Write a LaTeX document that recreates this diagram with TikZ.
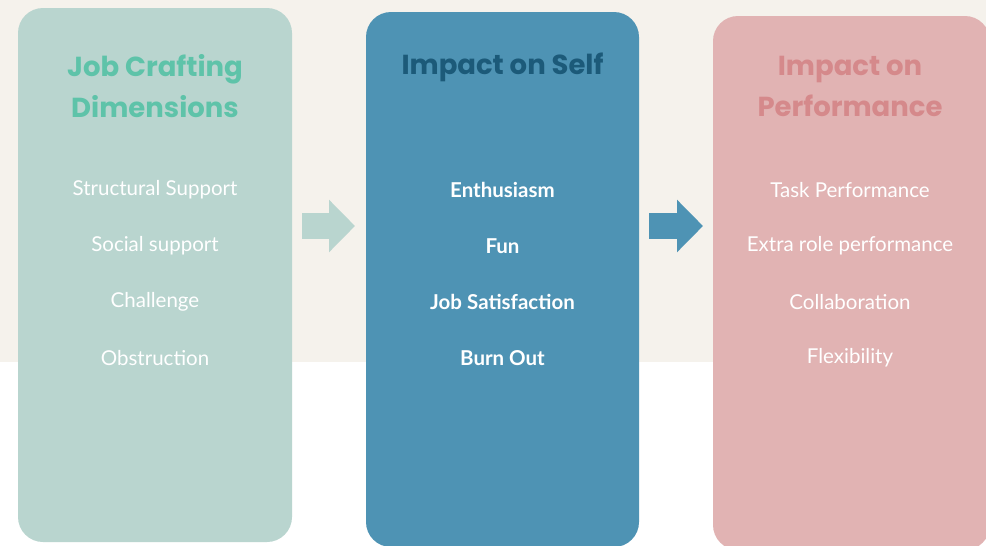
\documentclass[tikz,border=0pt]{standalone}
\usepackage{fontspec}
\setmainfont{Lato}
\newfontfamily\headfont{Poppins}
\usetikzlibrary{arrows.meta, positioning}
\usepackage{xcolor}
\definecolor{bgbeige}{HTML}{F5F2EC}
\definecolor{tealbox}{HTML}{B9D5CF}
\definecolor{tealhead}{HTML}{5EC3A9}
\definecolor{bluebox}{HTML}{4E93B4}
\definecolor{bluehead}{HTML}{1C5A79}
\definecolor{pinkbox}{HTML}{E1B3B3}
\definecolor{pinkhead}{HTML}{D5898B}

\tikzset{
    panel/.style={rounded corners=25pt, minimum width=274pt, minimum height=534pt, inner sep=0pt},
    head/.style={font=\headfont\bfseries\fontsize{27.5}{41}\selectfont, align=center},
    item/.style={font=\fontsize{20.5}{22}\selectfont, text=white},
    bolditem/.style={item, font=\bfseries\fontsize{20.5}{22}\selectfont},
    flow/.style={line width=26pt, -{Triangle[length=26pt, width=51pt]}}
}

\begin{document}
\begin{tikzpicture}[x=1pt, y=-1pt]
        % Background
        \useasboundingbox (0,0) rectangle (986,546);
        \fill[white] (0,0) rectangle (986,546);
        \fill[bgbeige] (0,0) rectangle (986,362);

        % Panels
        \node[panel, fill=tealbox] (jc) at (155,275) {};
        \node[panel, fill=bluebox, minimum width=273pt, minimum height=535pt] (self) at (502.5,279.5) {};
        \node[panel, fill=pinkbox, minimum width=277pt] (perf) at (851.5,283) {};

        % Headings
        \node[head, text=tealhead] (jch) at (155,86) {Job Crafting\\Dimensions};
        \node[head, text=bluehead] (selfh) at (502.5,67) {Impact on Self};
        \node[head, text=pinkhead] (perfh) at (850,86) {Impact on\\Performance};

        % Job crafting dimensions
        \node[item] (j1) at (155,190) {Structural Support};
        \node[item] (j2) at (155,246) {Social support};
        \node[item] (j3) at (155,302) {Challenge};
        \node[item] (j4) at (155,358) {Obstruction};

        % Impact on self
        \node[bolditem] (s1) at (502.5,190) {Enthusiasm};
        \node[bolditem] (s2) at (502.5,246) {Fun};
        \node[bolditem] (s3) at (502.5,302) {Job Satisfaction};
        \node[bolditem] (s4) at (502.5,358) {Burn Out};

        % Impact on performance
        \node[item] (p1) at (850,190) {Task Performance};
        \node[item] (p2) at (850,246) {Extra role performance};
        \node[item] (p3) at (850,302) {Collaboration};
        \node[item] (p4) at (850,358) {Flexibility};

        % Block arrows between panels
        \coordinate (a1s) at (302,226);
        \coordinate (a1e) at (355,226);
        \coordinate (a2s) at (649,226);
        \coordinate (a2e) at (703,226);
        \draw[flow, tealbox] (a1s) -- (a1e);
        \draw[flow, bluebox] (a2s) -- (a2e);
    \end{tikzpicture}
\end{document}
